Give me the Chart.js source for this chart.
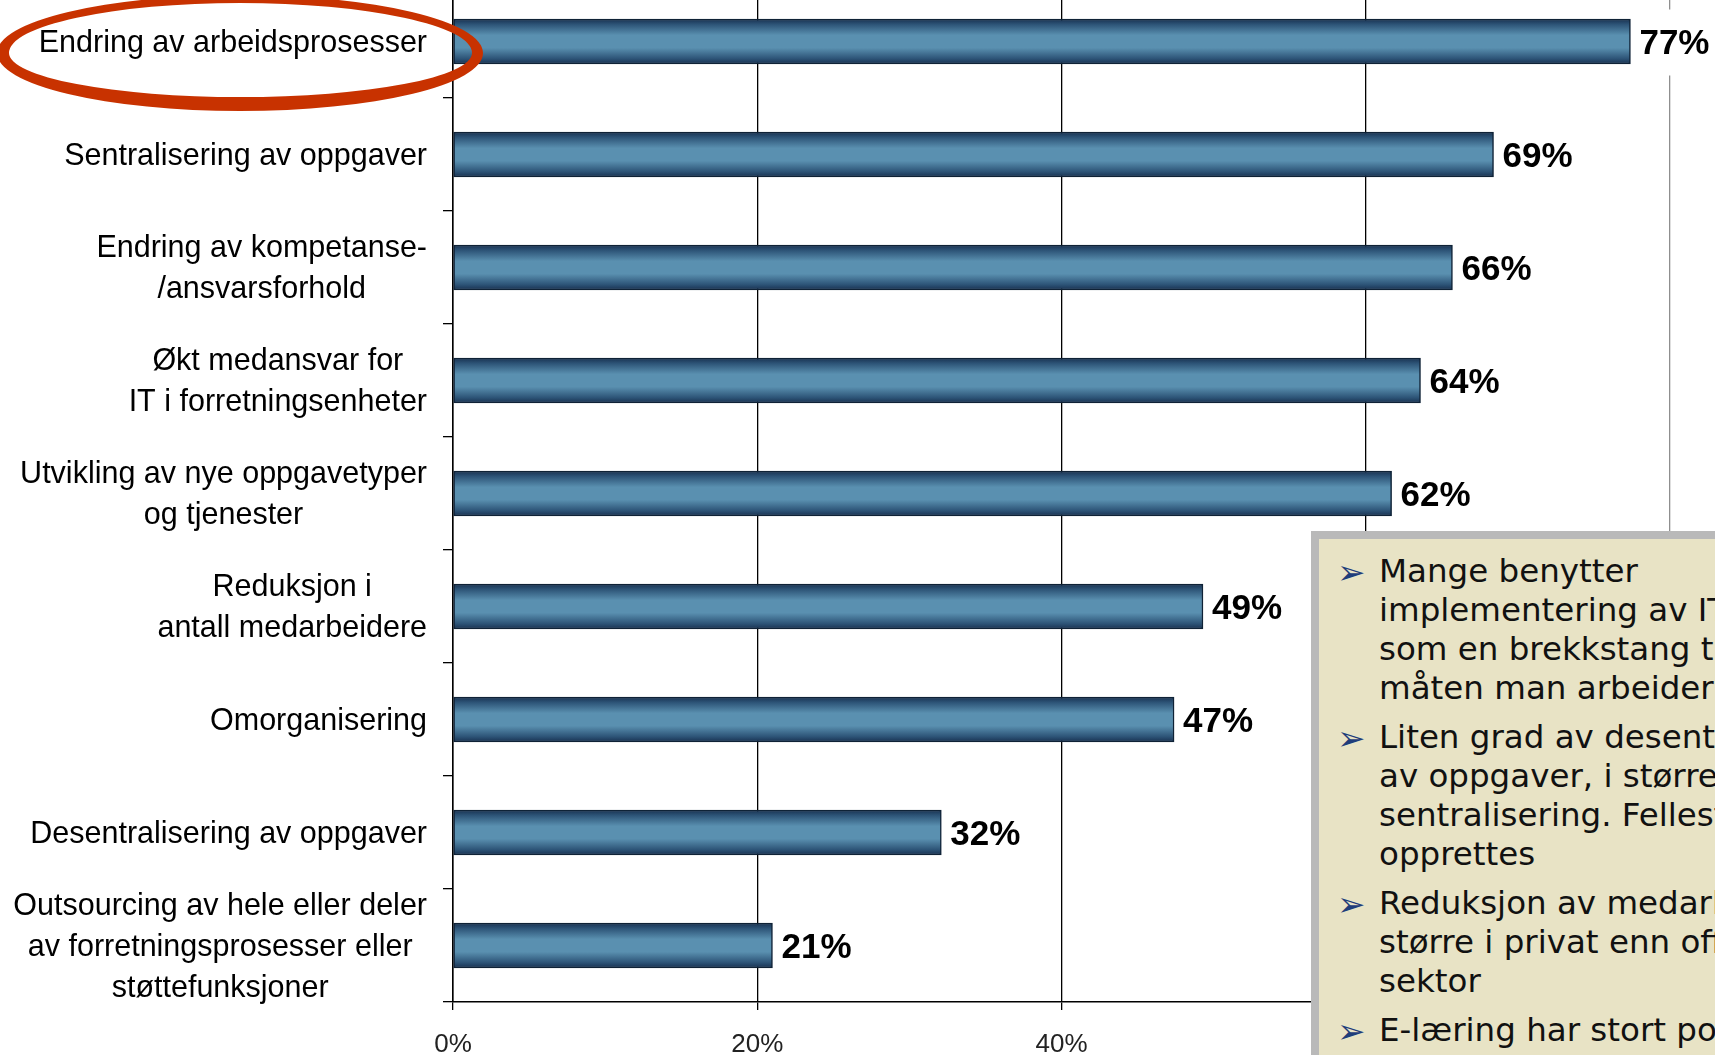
<!DOCTYPE html>
<html>
<head>
<meta charset="utf-8">
<script src="https://cdn.jsdelivr.net/npm/chart.js@4.4.1/dist/chart.umd.min.js"></script>
<style>
  html, body { margin: 0; padding: 0; background: #fff; }
  body { width: 1715px; height: 1055px; overflow: hidden; position: relative; }
  #c { position: absolute; left: 0; top: -40px; }
  #ring {
    position: absolute; left: -3px; top: -5px; width: 486px; height: 116px;
    box-sizing: border-box; border-style: solid; border-color: #c83200;
    border-width: 8px 11px 14px 12px; border-radius: 50%;
  }
  #note {
    position: absolute; left: 1311px; top: 531px; width: 520px; height: 600px;
    box-sizing: border-box; background: #e8e3c5; border: 8px solid #b9b9b9;
    padding: 13px 0 0 60px;
    font-family: "DejaVu Sans", sans-serif; font-size: 32.5px; line-height: 39px;
    color: #111; white-space: nowrap;
  }
  #note .p { position: relative; margin-bottom: 10px; }
  #note .b { position: absolute; left: -42px; top: 1px; font-size: 34px; line-height: 39px; color: #1f3d7a; }
</style>
</head>
<body>
<canvas id="c" width="1715" height="1100"></canvas>
<div id="ring"></div>
<div id="note">
  <div class="p"><span class="b">➢</span>Mange benytter<br>implementering av IT<br>som en brekkstang til å endre<br>måten man arbeider på</div>
  <div class="p"><span class="b">➢</span>Liten grad av desentralisering<br>av oppgaver, i større grad<br>sentralisering. Fellesfunksjoner<br>opprettes</div>
  <div class="p"><span class="b">➢</span>Reduksjon av medarbeidere<br>større i privat enn offentlig<br>sektor</div>
  <div class="p"><span class="b">➢</span>E-læring har stort potensial<br>og brukes i økende grad</div>
</div>
<script>
const categories = [
  ["Endring av arbeidsprosesser"],
  ["Sentralisering av oppgaver"],
  ["Endring av kompetanse-", "/ansvarsforhold"],
  ["Økt medansvar for", "IT i forretningsenheter"],
  ["Utvikling av nye oppgavetyper", "og tjenester"],
  ["Reduksjon i", "antall medarbeidere"],
  ["Omorganisering"],
  ["Desentralisering av oppgaver"],
  ["Outsourcing av hele eller deler", "av forretningsprosesser eller", "støttefunksjoner"],
];
// bar lengths as drawn, and the rounded numbers printed next to them
const shares = [77.4, 68.4, 65.7, 63.6, 61.7, 49.3, 47.4, 32.1, 21.0];
const printed = [77, 69, 66, 64, 62, 49, 47, 32, 21];
const xTicks = [0, 20, 40, 60, 80];

const barFill = (c) => {
  const chart = c.chart;
  const ys = chart.scales.y;
  if (!ys || ys.top === undefined) return "#4a7fa0";
  const cy = ys.getPixelForTick(c.dataIndex);
  const g = chart.ctx.createLinearGradient(0, cy - 22.5, 0, cy + 22.5);
  g.addColorStop(0, "#183150");
  g.addColorStop(0.12, "#2d5477");
  g.addColorStop(0.36, "#5a90b0");
  g.addColorStop(0.64, "#5a90b0");
  g.addColorStop(0.88, "#2d5477");
  g.addColorStop(1, "#183150");
  return g;
};

// category labels: each block right aligned, its lines centred
const catLabels = {
  id: "catLabels",
  afterDraw(chart) {
    const { ctx, chartArea } = chart;
    const ys = chart.scales.y;
    ctx.save();
    ctx.font = '30.5px "Liberation Sans", Arial, sans-serif';
    ctx.fillStyle = "#000";
    ctx.textAlign = "center";
    ctx.textBaseline = "middle";
    categories.forEach((lines, i) => {
      const w = Math.max(...lines.map((l) => ctx.measureText(l).width));
      const cx = chartArea.left - 26 - w / 2;
      const cy = ys.getPixelForTick(i) + 2;
      lines.forEach((l, j) => {
        ctx.fillText(l, cx, cy + (j - (lines.length - 1) / 2) * 41);
      });
    });
    ctx.restore();
  },
};

const valueLabels = {
  id: "valueLabels",
  afterDatasetsDraw(chart) {
    const ctx = chart.ctx;
    const meta = chart.getDatasetMeta(0);
    ctx.save();
    ctx.font = 'bold 35px "Liberation Sans", Arial, sans-serif';
    ctx.textBaseline = "middle";
    ctx.textAlign = "left";
    meta.data.forEach((bar, i) => {
      const t = printed[i] + "%";
      const x = bar.x + 9;
      const w = ctx.measureText(t).width;
      ctx.fillStyle = "#fff";
      ctx.fillRect(x - 2, bar.y - 32, w + 4, 66);
      ctx.fillStyle = "#000";
      ctx.fillText(t, x, bar.y + 3);
    });
    ctx.restore();
  },
};

new Chart(document.getElementById("c").getContext("2d"), {
  type: "bar",
  data: {
    labels: categories,
    datasets: [
      {
        data: shares,
        backgroundColor: barFill,
        borderColor: "#0f2236",
        borderWidth: 1.5,
        borderSkipped: false,
        barThickness: 45,
      },
    ],
  },
  options: {
    indexAxis: "y",
    responsive: false,
    animation: false,
    layout: { padding: { top: 25, right: 45, left: 0, bottom: 0 } },
    plugins: { legend: { display: false }, tooltip: { enabled: false } },
    scales: {
      x: {
        min: 0,
        max: 80,
        afterBuildTicks: (s) => {
          s.ticks = xTicks.map((v) => ({ value: v }));
        },
        afterFit: (s) => {
          s.height = 58;
        },
        border: { display: true, color: "#000", width: 1.5 },
        grid: {
          color: (c) => (c.tick && c.tick.value === 80 ? "#8f8f8f" : "#000"),
          lineWidth: 1.3,
          tickLength: 8,
        },
        ticks: {
          color: "#222",
          padding: 19,
          font: { family: "Liberation Sans", size: 26 },
          callback: (v) => v + "%",
        },
      },
      y: {
        afterFit: (s) => {
          s.width = 453;
        },
        border: { display: true, color: "#000", width: 1.5 },
        grid: {
          offset: true,
          drawOnChartArea: false,
          color: "#000",
          lineWidth: 1.3,
          tickLength: 10,
        },
        ticks: { display: false },
      },
    },
  },
  plugins: [valueLabels, catLabels],
});
</script>
</body>
</html>
